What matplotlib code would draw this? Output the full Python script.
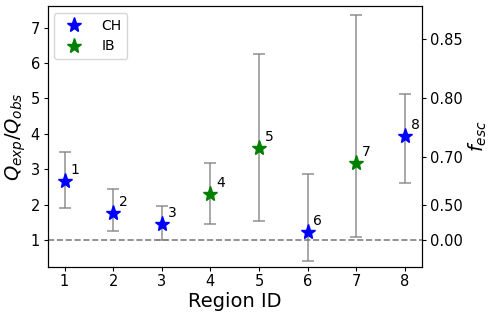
import numpy as np
import matplotlib
matplotlib.use('Agg')
import matplotlib.pyplot as plt


# data
region = [1, 2, 3, 4, 5, 6, 7, 8]
q_ratio = [2.67, 1.77, 1.45, 2.29, 3.61, 1.22, 3.17, 3.94]
q_upper = [3.49, 2.44, 1.96, 3.18, 6.25, 2.86, 7.35, 5.13]
q_lower = [1.90, 1.25, 1.00, 1.45, 1.54, 0.415, 1.08, 2.62]
kind = ['CH', 'CH', 'CH', 'IB', 'IB', 'CH', 'IB', 'CH']
colors = {'CH': 'blue', 'IB': 'green'}

fesc_ticks = [0.00, 0.50, 0.70, 0.80, 0.85]


fig = plt.figure(figsize=(4.9, 3.17), dpi=100)
ax = fig.add_axes([0.097, 0.159, 0.764, 0.822])

yerr = [np.array(q_ratio) - np.array(q_lower), np.array(q_upper) - np.array(q_ratio)]
ax.errorbar(region, q_ratio, yerr=yerr, fmt='none', ecolor='gray', elinewidth=1.2,
            capsize=4, capthick=1.2, alpha=0.8, zorder=1)

for k in ['CH', 'IB']:
    xs = [r for r, t in zip(region, kind) if t == k]
    ys = [q for q, t in zip(q_ratio, kind) if t == k]
    ax.plot(xs, ys, '*', color=colors[k], markersize=11, linestyle='none', label=k, zorder=3)

for r, q in zip(region, q_ratio):
    ax.text(r + 0.12, q + 0.2, str(r), fontsize=10)

ax.axhline(1, color='gray', linestyle='--', linewidth=1.2)

ax.set_xlim(0.65, 8.35)
ax.set_ylim(0.25, 7.61)
ax.set_xticks(region)
ax.set_yticks([1, 2, 3, 4, 5, 6, 7])
ax.tick_params(labelsize=10.5, length=2.8, pad=2.8)
ax.set_xlabel('Region ID', fontsize=14, labelpad=2)
ax.set_ylabel('$Q_{exp}/Q_{obs}$', fontsize=14, labelpad=2)
ax.legend(loc='upper left', fontsize=10, handletextpad=1.0)

# right axis: f_esc = 1 - 1/Q
ax2 = ax.twinx()
ax2.set_ylim(ax.get_ylim())
ax2.set_yticks([1.0 / (1.0 - f) for f in fesc_ticks])
ax2.set_yticklabels(['%.2f' % f for f in fesc_ticks])
ax2.tick_params(labelsize=10.5, length=2.8, pad=2.8)
ax2.set_ylabel('$f_{esc}$', fontsize=14, labelpad=3)

fig.savefig('out.png', dpi=100)
